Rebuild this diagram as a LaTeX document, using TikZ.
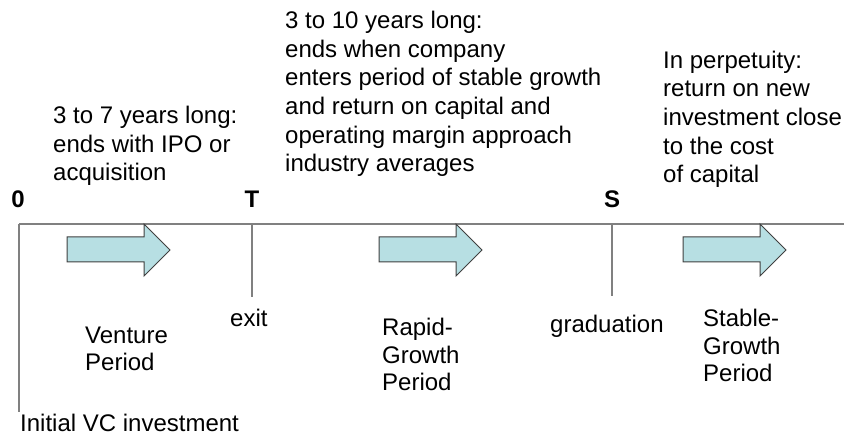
\documentclass[tikz,border=0pt]{standalone}
\usepackage{fontspec}
\setmainfont{Liberation Sans}
\usepackage{tikz}
\usetikzlibrary{positioning}
\definecolor{tlgray}{RGB}{128,128,128}
\definecolor{arrfill}{RGB}{183,223,227}
\definecolor{arredge}{RGB}{64,64,64}
\tikzset{
  txt/.style={font=\fontsize{24}{28.7}\selectfont, inner sep=0pt, anchor=base west, align=left},
  lbl/.style={txt, font=\fontsize{24}{27.5}\selectfont},
  timemark/.style={font=\fontsize{24}{28.5}\selectfont\bfseries, inner sep=0pt, anchor=base},
  tline/.style={tlgray, line width=1.5pt},
  periodarrow/.style={draw=arredge, fill=arrfill, line width=1pt, line join=miter}
}

\begin{document}
\begin{tikzpicture}[x=1pt, y=-1pt]
\useasboundingbox (0,0) rectangle (844,435);
% Time line
\coordinate (start) at (19,224);
\coordinate (end) at (844,224);
\draw[tline] (start) -- (end);
\draw[tline] (start) -- (19,412);
\draw[tline] (252,224) -- (252,297);
\draw[tline] (612,224) -- (612,296);
% Points in time
\node[timemark] (zero) at (18,208) {0};
\node[timemark] (exitT) at (252,208) {T};
\node[timemark] (gradS) at (612,208) {S};
% Period arrows
\foreach \x in {67,379,683} {
  \draw[periodarrow] (\x,237) -- (\x+77,237) -- (\x+77,224) -- (\x+103,250)
    -- (\x+77,276) -- (\x+77,262) -- (\x,262) -- cycle;
}
% Descriptions above the line (anchored at last line)
\node[txt] (venturetxt) at (53,181) {3 to 7 years long:\\ends with IPO or\\acquisition};
\node[txt] (rapidtxt) at (285,172) {3 to 10 years long:\\ends when company\\enters period of stable growth\\and return on capital and\\operating margin approach\\industry averages};
\node[txt] (stabletxt) at (663,183) {In perpetuity:\\return on new\\investment close\\to the cost\\of capital};
% Labels below the line
\node[lbl] (venture) at (85,371) {Venture\\Period};
\node[lbl] (exit) at (230,327) {exit};
\node[lbl] (rapid) at (382,391) {Rapid-\\Growth\\Period};
\node[lbl] (grad) at (550,333) {graduation};
\node[lbl] (stable) at (703,382) {Stable-\\Growth\\Period};
\node[lbl] (initial) at (20,432) {Initial VC investment};
\end{tikzpicture}
\end{document}
